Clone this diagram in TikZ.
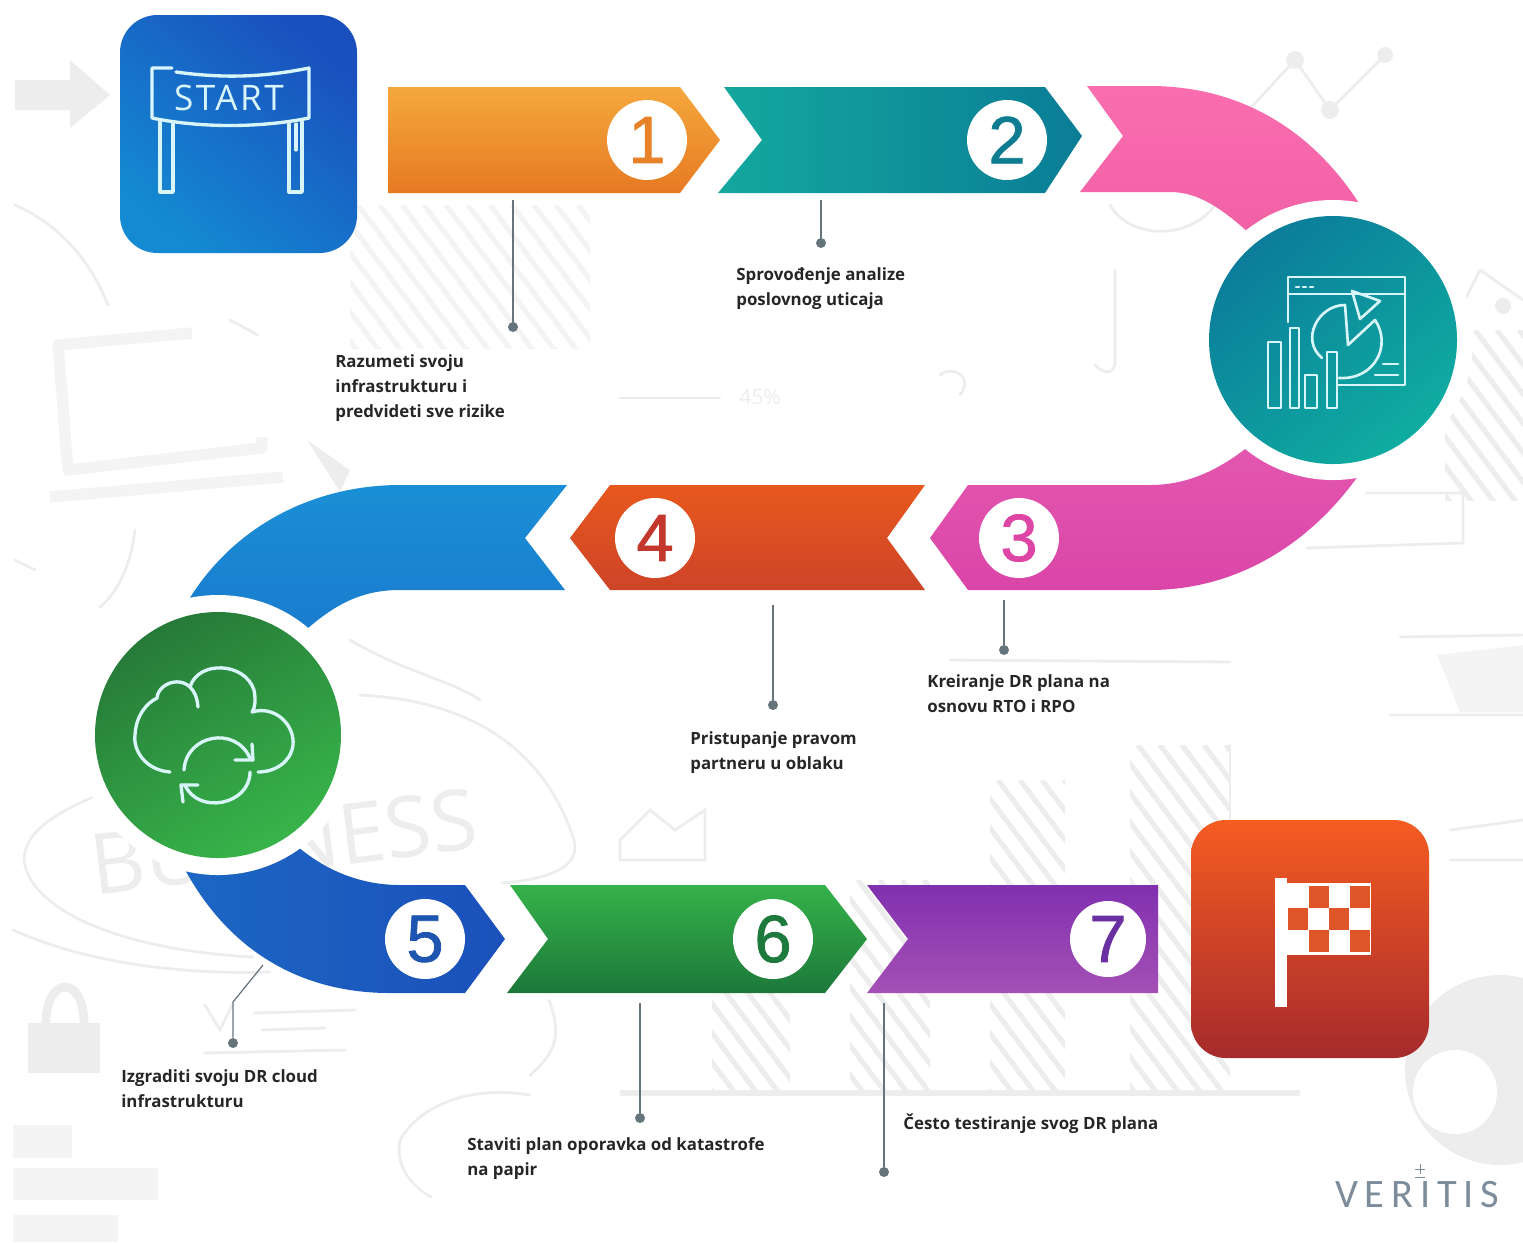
\documentclass[tikz,border=0pt]{standalone}
\usepackage{fontspec}
\setmainfont{Open Sans}
\newfontfamily\numfont[FakeBold=1.2]{Liberation Sans}
\newfontfamily\logofont{Carlito}
\usetikzlibrary{positioning}
\definecolor{iconline}{HTML}{D8F6FA}
\definecolor{leadline}{HTML}{66757C}
\definecolor{faintline}{HTML}{EDEDED}
\definecolor{fainterline}{HTML}{F4F4F4}
\definecolor{logoblue}{HTML}{7C8C9A}
\definecolor{flagred}{HTML}{DE5528}
\tikzset{
  bgline/.style={draw=faintline,line width=1.6pt,line cap=round},
  bgthick/.style={draw=fainterline,line width=6.5pt,line join=round},
  numdisc/.style={circle,fill=white,draw=none,minimum size=1.6cm,inner sep=0pt,font=\numfont\fontsize{38}{38}\selectfont},
  dotmark/.style={circle,fill=leadline,draw=none,minimum size=.2cm,inner sep=0pt},
  leader/.style={draw=leadline,line width=.7pt},
  steptext/.style={anchor=west,align=left,font=\bfseries\fontsize{9.6}{14.2}\selectfont,text=black!85,inner sep=0pt},
  iconstroke/.style={draw=iconline,line width=1.9pt,line join=round,line cap=round},
  thinstroke/.style={draw=iconline,line width=1.5pt,line join=round,line cap=round},
}
\newcommand{\hatchbar}[5][faintline]{%
  \begin{scope}
    \clip (#2,#3) rectangle (#4,#5);
    \foreach \k in {0,22,...,700} {\draw[#1,line width=3pt] (#2-300+\k,#3) -- ++(300,400);}
  \end{scope}}
\begin{document}
\begin{tikzpicture}[x=.02cm,y=-.02cm]
\useasboundingbox (0,0) rectangle (1523,1242);
% faint sketches behind the road
\fill[faintline] (15,80) -- (70,80) -- (70,60) -- (110,95) -- (70,128) -- (70,110) -- (15,110) -- cycle;
\draw[bgline] (15,205) .. controls (60,225) and (90,260) .. (108,305);
\draw[bgthick] (192,333) -- (58,345) -- (68,470) -- (262,448) -- (262,437);
\draw[bgthick] (50,497) -- (283,477);
\fill[faintline] (307,440) -- (350,470) -- (340,492) -- cycle;
\draw[bgline] (135,530) .. controls (130,570) and (115,595) .. (100,607);
\draw[bgline] (15,560) -- (35,570) (230,320) -- (258,335);
\hatchbar[fainterline]{350}{205}{590}{348}
\draw[bgline] (620,398) -- (720,398);
\node[text=faintline,font=\fontsize{12}{12}\selectfont] (pct) at (760,397) {45\%};
\draw[bgline] (1230,130) -- (1295,60) -- (1330,110) -- (1385,55);
\fill[faintline] (1295,60) circle (9) (1330,110) circle (9) (1385,55) circle (8);
\draw[bgline] (1110,205) .. controls (1130,240) and (1190,240) .. (1215,205);
\draw[bgline] (1115,270) -- (1115,360) .. controls (1115,375) and (1105,375) .. (1095,365);
\hatchbar{1445}{330}{1523}{500}
\draw[bgline] (1480,270) -- (1523,300) (1480,270) -- (1455,320);
\fill[faintline] (1503,306) circle (8);
\draw[bgline] (1367,493) -- (1463,493) -- (1463,543) -- (1307,548);
\draw[bgline] (950,660) -- (1230,662);
\fill[fainterline] (1437,655) -- (1523,645) -- (1523,712) -- (1460,712) -- cycle;
\draw[bgline] (1400,637) -- (1523,635) (1390,715) -- (1523,715);
\draw[bgline] (940,375) .. controls (950,365) and (975,375) .. (960,395);
\draw[bgline] (350,640) .. controls (400,670) and (450,680) .. (480,700);
\draw[bgline] (360,695) .. controls (460,700) and (540,740) .. (573,837) .. controls (585,870) and (540,880) .. (502,883);
\draw[bgline] (110,790) .. controls (60,810) and (24,830) .. (24,860) .. controls (30,910) and (120,950) .. (253,957);
\draw[bgline] (13,930) .. controls (80,960) and (170,975) .. (270,972);
\node[text=faintline,font=\fontsize{48}{48}\selectfont,rotate=7] (busword) at (284,842) {BUSINESS};
\draw[bgline] (620,840) -- (650,810) -- (675,830) -- (705,810) -- (705,860) -- (620,860) -- cycle;
\hatchbar{712}{985}{790}{1093}
\hatchbar{850}{880}{930}{1093}
\hatchbar{990}{780}{1065}{1093}
\hatchbar{1130}{745}{1230}{1093}
\draw[faintline,line width=3pt] (620,1093) -- (1300,1093);
\draw[bgline] (1230,745) -- (1230,820);
\fill[faintline] (28,1023) rectangle (100,1073);
\draw[faintline,line width=5pt] (46,1023) .. controls (46,975) and (84,975) .. (84,1023);
\draw[bgline] (205,1005) -- (220,1030) -- (232,1005) (255,1013) -- (355,1010) (262,1030) -- (325,1028) (205,1053) -- (345,1050);
\draw[bgline] (549,1000) .. controls (560,1030) and (560,1050) .. (530,1075);
\draw[bgline] (530,1095) .. controls (470,1085) and (420,1105) .. (400,1140) .. controls (395,1165) and (410,1185) .. (431,1197);
\fill[faintline] (1500,1070) circle (95);
\fill[white] (1455,1092) circle (42);
\fill[fainterline] (13,1125) rectangle (72,1158) (13,1168) rectangle (158,1200) (13,1215) rectangle (118,1242);
\draw[bgline] (1450,830) -- (1523,820) (1450,860) -- (1523,860);
% the road, left to right and back
\shade[top color={rgb,255:red,245;green,168;blue,60},bottom color={rgb,255:red,230;green,122;blue,35}]
  (388,87) -- (680,87) -- (720,140) -- (680,193) -- (388,193) -- cycle;
\shade[left color={rgb,255:red,20;green,168;blue,158},right color={rgb,255:red,10;green,125;blue,150}]
  (724,87) -- (1045,87) -- (1082,136) -- (1045,193) -- (718,193) -- (762,140) -- cycle;
\shade[top color={rgb,255:red,250;green,110;blue,175},bottom color={rgb,255:red,240;green,95;blue,165}]
  (1087,86) -- (1123,136) -- (1080,192) -- (1170,192) .. controls (1200,192) and (1225,210) .. (1262,245) -- (1372,225)
  .. controls (1320,130) and (1240,86) .. (1150,86) -- cycle;
\shade[top color={rgb,255:red,228;green,88;blue,175},bottom color={rgb,255:red,218;green,70;blue,168}]
  (968,485) -- (1150,485) .. controls (1190,485) and (1225,468) .. (1262,435) -- (1372,455)
  .. controls (1320,540) and (1240,590) .. (1150,590) -- (968,590) -- (930,538) -- cycle;
\shade[top color={rgb,255:red,232;green,88;blue,30},bottom color={rgb,255:red,205;green,68;blue,40}]
  (610,485) -- (925,485) -- (887,538) -- (925,590) -- (610,590) -- (570,538) -- cycle;
\shade[top color={rgb,255:red,26;green,143;blue,214},bottom color={rgb,255:red,26;green,122;blue,205}]
  (567,485) -- (525,538) -- (565,590) -- (400,590) .. controls (360,590) and (330,605) .. (290,645) -- (175,625)
  .. controls (220,530) and (310,485) .. (400,485) -- cycle;
\shade[left color={rgb,255:red,28;green,103;blue,195},right color={rgb,255:red,27;green,80;blue,187}]
  (285,835) .. controls (320,870) and (360,885) .. (400,885) -- (465,885) -- (505,939) -- (465,993) -- (390,993)
  .. controls (300,993) and (225,950) .. (180,860) -- cycle;
\shade[top color={rgb,255:red,53;green,178;blue,74},bottom color={rgb,255:red,29;green,120;blue,58}]
  (510,885) -- (825,885) -- (867,939) -- (825,993) -- (507,993) -- (548,939) -- cycle;
\shade[top color={rgb,255:red,128;green,48;blue,176},bottom color={rgb,255:red,165;green,80;blue,181}]
  (867,885) -- (1158,885) -- (1158,993) -- (867,993) -- (908,939) -- cycle;
% discs and numbers
\node[numdisc,text={rgb,255:red,232;green,130;blue,40}] (num1) at (647,140) {1};
\node[numdisc,text={rgb,255:red,14;green,125;blue,145}] (num2) at (1007,140) {2};
\node[numdisc,text={rgb,255:red,222;green,70;blue,165}] (num3) at (1019,538) {3};
\node[numdisc,text={rgb,255:red,195;green,55;blue,45}] (num4) at (655,538) {4};
\node[numdisc,text={rgb,255:red,30;green,85;blue,176}] (num5) at (425,939) {5};
\node[numdisc,text={rgb,255:red,30;green,122;blue,60}] (num6) at (773,939) {6};
\node[numdisc,text={rgb,255:red,106;green,47;blue,160},minimum size=1.52cm] (num7) at (1108,939) {7};
% start box
\shade[top color={rgb,255:red,26;green,80;blue,190},bottom color={rgb,255:red,20;green,138;blue,210},shading angle=-40,rounded corners=.75cm]
  (120,15) rectangle (357,253);
\draw[iconstroke] (172,68) -- (152,68) -- (152,118) .. controls (200,128) and (260,128) .. (309,118) -- (309,68)
  .. controls (260,78) and (220,78) .. (176,72);
\draw[iconstroke] (160,122) -- (160,192) -- (173,192) -- (173,124) (289,124) -- (289,192) -- (302,192) -- (302,122);
\draw[iconstroke] (296,124) -- (296,150);
\node[text=iconline,font=\fontsize{20}{20}\selectfont\addfontfeature{LetterSpace=7}] (starttext) at (229,98) {START};
% chart circle
\fill[white] (1333,340) circle (140);
\shade[top color={rgb,255:red,11;green,125;blue,155},bottom color={rgb,255:red,15;green,172;blue,160},shading angle=40]
  (1333,340) circle (124);
\draw[thinstroke] (1288,322) -- (1288,277) -- (1405,277) -- (1405,385) -- (1337,385) (1288,294) -- (1405,294);
\draw[thinstroke] (1296,287) -- (1299,287) (1303,287) -- (1306,287) (1310,287) -- (1313,287);
\draw[thinstroke] (1268,342) rectangle (1281,408) (1290,328) rectangle (1299,408) (1305,375) rectangle (1317,408) (1327,352) rectangle (1337,408);
\draw[thinstroke] (1345,305) -- (1348,345) -- (1375,320) .. controls (1392,345) and (1375,380) .. (1339,378);
\draw[thinstroke] (1345,305) .. controls (1318,305) and (1300,340) .. (1322,358);
\draw[thinstroke] (1352,291) -- (1380,301) -- (1360,319) -- cycle;
\draw[thinstroke] (1383,364) -- (1398,364) (1375,375) -- (1398,375);
% cloud circle
\fill[white] (218,735) circle (140);
\shade[top color={rgb,255:red,38;green,122;blue,56},bottom color={rgb,255:red,56;green,180;blue,74},shading angle=30]
  (218,735) circle (123);
\draw[iconstroke] (170,772) .. controls (145,770) and (133,750) .. (135,735) .. controls (136,715) and (147,703) .. (157,698)
  .. controls (158,680) and (195,670) .. (198,707);
\draw[iconstroke] (190,687) .. controls (198,660) and (245,662) .. (254,690) .. controls (256,700) and (255,708) .. (252,712)
  .. controls (275,705) and (295,725) .. (293,745) .. controls (291,762) and (275,772) .. (258,772);
\draw[iconstroke] (184,770) .. controls (186,735) and (235,725) .. (250,758);
\draw[iconstroke] (252,744) -- (253,760) -- (235,760);
\draw[iconstroke] (250,772) .. controls (250,805) and (198,815) .. (185,785);
\draw[iconstroke] (183,802) -- (181,785) -- (198,785);
% finish box
\shade[top color={rgb,255:red,245;green,92;blue,33},bottom color={rgb,255:red,166;green,42;blue,44},rounded corners=.7cm]
  (1191,820) rectangle (1429,1058);
\fill[white] (1275,878) rectangle (1287,1007);
\fill[white] (1283,883) rectangle (1371,955);
\foreach \r/\c in {0/1,0/3,1/0,1/2,2/1,2/3} {
  \fill[flagred] (1288+20.5*\c,886+22.2*\r) rectangle ++(20,22);
}
% leaders and texts
\coordinate (top1) at (513,200);
\node[dotmark] (dot1) at (513,327) {};
\draw[leader] (top1) -- (dot1);
\coordinate (top2) at (821,200);
\node[dotmark] (dot2) at (821,243) {};
\draw[leader] (top2) -- (dot2);
\coordinate (top3) at (1004,600);
\node[dotmark] (dot3) at (1004,650) {};
\draw[leader] (top3) -- (dot3);
\coordinate (top4) at (773,605);
\node[dotmark] (dot4) at (773,705) {};
\draw[leader] (top4) -- (dot4);
\coordinate (top5) at (263,965);
\coordinate (bend5) at (233,1002);
\node[dotmark] (dot5) at (233,1043) {};
\draw[leader] (top5) -- (bend5) -- (dot5);
\coordinate (top6) at (640,1003);
\node[dotmark] (dot6) at (640,1118) {};
\draw[leader] (top6) -- (dot6);
\coordinate (top7) at (884,1003);
\node[dotmark] (dot7) at (884,1172) {};
\draw[leader] (top7) -- (dot7);
\node[steptext] (text1) at (335,388) {Razumeti svoju\\infrastrukturu i\\predvideti sve rizike};
\node[steptext] (text2) at (736,289) {Sprovođenje analize\\poslovnog uticaja};
\node[steptext] (text3) at (927,694) {Kreiranje DR plana na\\osnovu RTO i RPO};
\node[steptext] (text4) at (690,753) {Pristupanje pravom\\partneru u oblaku};
\node[steptext] (text5) at (121,1089) {Izgraditi svoju DR cloud\\infrastrukturu};
\node[steptext] (text6) at (467,1159) {Staviti plan oporavka od katastrofe\\na papir};
\node[steptext] (text7) at (903,1124) {Često testiranje svog DR plana};
\node[anchor=west,inner sep=0pt,text=logoblue,font=\logofont\fontsize{23}{23}\selectfont] (logo) at (1335,1194) {V\,E\,R\,I\,T\,I\,S};
\draw[logoblue,line width=.5pt] (1415,1177) -- (1425,1177) (1420,1164) -- (1420,1174) (1415,1169) -- (1425,1169);
\end{tikzpicture}
\end{document}
